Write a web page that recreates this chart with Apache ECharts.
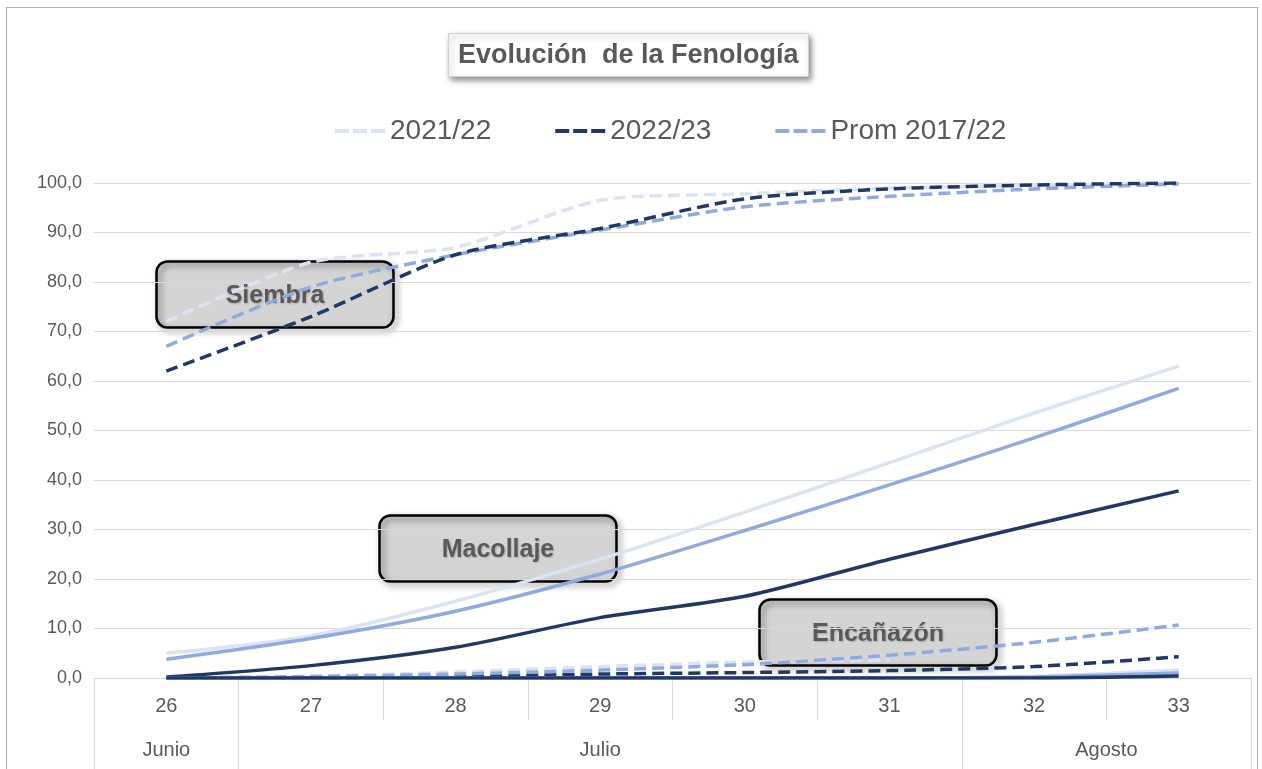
<!DOCTYPE html>
<html>
<head>
<meta charset="utf-8">
<title>Evolución de la Fenología</title>
<script src="https://cdn.jsdelivr.net/npm/echarts@6/dist/echarts.min.js"></script>
<style>
  html, body { margin: 0; padding: 0; background: #fff; }
  #wrap { position: relative; width: 1262px; height: 769px; overflow: hidden; }
  #main { width: 1262px; height: 769px; }
  .frame {
    position: absolute; left: 6px; top: 7px; width: 1250px; height: 800px;
    border: 1.5px solid #b0b0b0; pointer-events: none;
  }
</style>
</head>
<body>
<div id="wrap">
  <div id="main"></div>
  <div class="frame"></div>
</div>
<script>
// semanas y meses del eje
var weeks = ["26", "27", "28", "29", "30", "31", "32", "33"];
var months = ["Junio", "Julio", "Agosto"];
var monthWeeks = [1, 5, 2]; // semanas de cada mes
var yTicks = [0, 100, 10]; // min, max, intervalo

var years = ["2021/22", "2022/23", "Prom 2017/22"];

// Siembra (%)
var siembra21 = [72, 84, 87, 96.5, 97.8, 99, 99.5, 100];
var siembra22 = [62, 73, 85.5, 90.8, 96.8, 98.8, 99.6, 100];
var siembraProm = [67, 79, 85.5, 90.5, 95.2, 97.3, 98.8, 99.8];

// Macollaje (%)
var macollaje21 = [5, 8.5, 15.5, 24, 33.5, 43.5, 53.5, 63];
var macollaje22 = [0.2, 2.5, 6.2, 12.2, 16.5, 24, 31, 37.8];
var macollajeProm = [3.8, 8, 13.5, 21, 29.8, 39, 48.5, 58.5];

// Encañazón (%)
var encanazon21 = [0, 0.3, 1.2, 2.3, 3.2, 3.6, null, null];
var encanazon22 = [0, 0, 0.3, 0.8, 1.1, 1.5, 2.3, 4.3];
var encanazonProm = [0, 0.3, 0.8, 1.6, 2.7, 4.6, 7.2, 10.7];

// Espigazón (%)
var espigazon21 = [0, 0, 0, 0, 0, 0, 0.3, 1.6];
var espigazon22 = [0, 0, 0, 0, 0, 0, 0, 0.4];
var espigazonProm = [0, 0, 0, 0, 0, 0, 0.2, 1.0];

var colores = ["#dae3f3", "#203864", "#8faadc"];
var FONT = "'Liberation Sans', Arial, sans-serif";
var GRIS = "#595959";

// eje de meses en medias semanas (17 puntos)
var monthSlots = [];
for (var i = 0; i <= weeks.length * 2; i++) monthSlots.push(String(i));
var monthTickIdx = [0];
var monthLabelIdx = {};
var acc = 0;
monthWeeks.forEach(function (n, k) {
  monthLabelIdx[acc * 2 + n] = months[k];
  acc += n;
  monthTickIdx.push(acc * 2);
});

var dash = [12, 6];
function linea(nombre, datos, k, tipo) {
  return {
    name: nombre,
    type: "line",
    data: datos,
    smooth: 0.25,
    symbol: "none",
    itemStyle: { color: colores[k] },
    lineStyle: { color: colores[k], width: 3.5, type: tipo, cap: "butt" },
  };
}

var series = [
  linea(years[0], siembra21, 0, dash),
  linea(years[2], siembraProm, 2, dash),
  linea(years[1], siembra22, 1, dash),
  linea(years[0], macollaje21, 0, "solid"),
  linea(years[2], macollajeProm, 2, "solid"),
  linea(years[1], macollaje22, 1, "solid"),
  linea(years[0], encanazon21, 0, dash),
  linea(years[1], encanazon22, 1, dash),
  linea(years[2], encanazonProm, 2, dash),
  linea(years[0], espigazon21, 0, "solid"),
  linea(years[2], espigazonProm, 2, "solid"),
  linea(years[1], espigazon22, 1, "solid"),
];

function caja(texto, left, top) {
  var w = 237, h = 66, r = 11;
  return {
    type: "group",
    left: left,
    top: top,
    z: 100,
    children: [
      {
        type: "rect",
        shape: { x: 0, y: 0, width: w, height: h, r: r },
        style: { fill: "rgba(196,196,196,0.72)", stroke: null },
      },
      {
        type: "rect",
        shape: { x: 0, y: 0, width: w, height: h, r: r },
        style: {
          fill: null,
          stroke: "#000",
          lineWidth: 2.5,
          shadowBlur: 6,
          shadowColor: "rgba(0,0,0,0.5)",
          shadowOffsetX: 3,
          shadowOffsetY: 3,
        },
      },
      {
        type: "text",
        style: {
          text: texto,
          x: w / 2,
          y: h / 2 + 2,
          align: "center",
          verticalAlign: "middle",
          font: "bold 25px " + FONT,
          fill: GRIS,
          textShadowBlur: 2,
          textShadowColor: "rgba(0,0,0,0.2)",
          textShadowOffsetX: 1,
          textShadowOffsetY: 1,
        },
      },
    ],
  };
}

var dashIcon = "path://M0,0H14V4H0Z M18,0H32V4H18Z M36,0H50V4H36Z";

var chart = echarts.init(document.getElementById("main"));
var option = {
  animation: false,
  textStyle: { fontFamily: FONT },
  title: {
    text: "Evolución  de la Fenología",
    left: 448,
    top: 33,
    padding: [9, 10, 8, 10],
    backgroundColor: "#fff",
    borderColor: "#d0d0d0",
    borderWidth: 1,
    shadowBlur: 6,
    shadowColor: "rgba(0,0,0,0.45)",
    shadowOffsetX: 2,
    shadowOffsetY: 3,
    textStyle: { fontSize: 27, fontWeight: "bold", color: GRIS, fontFamily: FONT },
  },
  legend: {
    top: 112,
    left: 330,
    itemWidth: 50,
    itemHeight: 4,
    itemGap: 64,
    textStyle: { fontSize: 28, color: GRIS, fontFamily: FONT },
    itemStyle: { borderWidth: 0 },
    data: years.map(function (y, k) {
      return { name: y, icon: dashIcon, itemStyle: { color: colores[k], borderWidth: 0 } };
    }),
  },
  grid: { left: 94, right: 11, top: 183, bottom: 91, containLabel: false },
  xAxis: [
    {
      type: "category",
      data: weeks,
      boundaryGap: true,
      axisLine: { lineStyle: { color: "#d9d9d9", width: 1 } },
      axisTick: { show: true, interval: 0, length: 42, lineStyle: { color: "#d9d9d9" } },
      axisLabel: { interval: 0, margin: 18, fontSize: 20, color: GRIS },
    },
    {
      type: "category",
      data: monthSlots,
      boundaryGap: false,
      position: "bottom",
      offset: 42,
      axisLine: { show: false },
      axisTick: {
        show: true,
        length: 52,
        interval: function (idx) {
          return monthTickIdx.indexOf(idx) >= 0;
        },
        lineStyle: { color: "#d9d9d9" },
      },
      axisLabel: {
        margin: 20,
        fontSize: 20,
        color: GRIS,
        interval: function (idx) {
          return monthLabelIdx[idx] !== undefined;
        },
        formatter: function (v, idx) {
          return monthLabelIdx[idx] || "";
        },
      },
    },
  ],
  yAxis: {
    type: "value",
    min: yTicks[0],
    max: yTicks[1],
    interval: yTicks[2],
    axisLine: { show: false },
    axisTick: { show: false },
    splitLine: { lineStyle: { color: "#d9d9d9", width: 1 } },
    axisLabel: {
      margin: 12,
      fontSize: 18,
      color: GRIS,
      formatter: function (v) {
        return v.toFixed(1).replace(".", ",");
      },
    },
  },
  graphic: [
    caja("Siembra", 154, 259),
    caja("Macollaje", 377, 513),
    caja("Encañazón", 757, 597),
  ],
  series: series,
};
chart.setOption(option);
</script>
</body>
</html>
